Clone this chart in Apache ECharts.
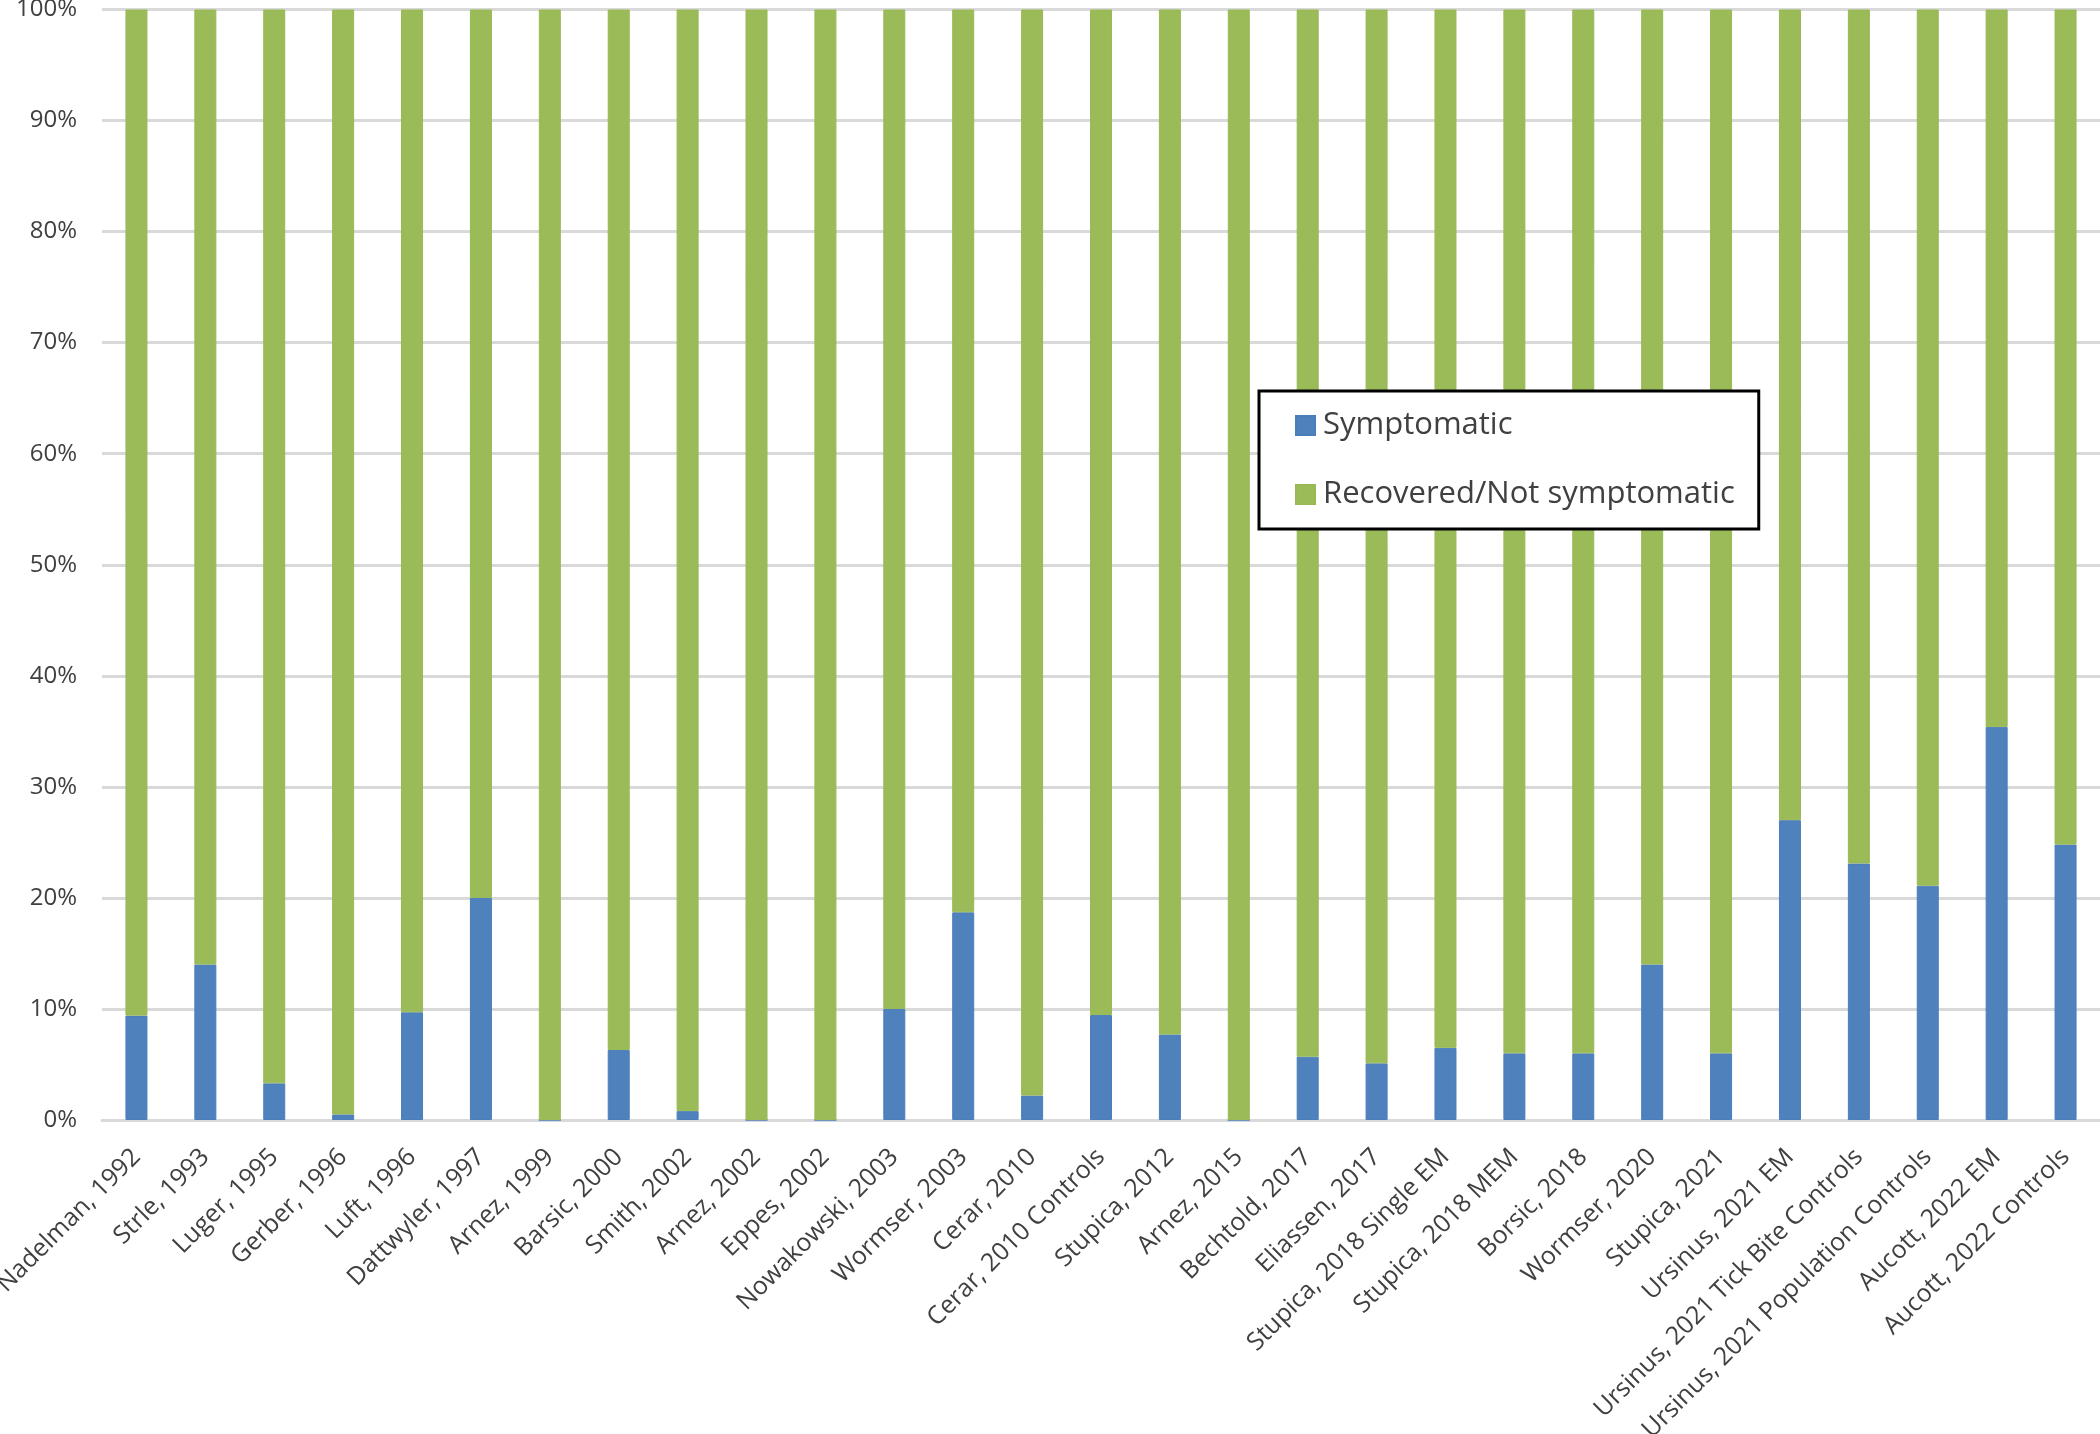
<!DOCTYPE html>
<html>
<head>
<meta charset="utf-8">
<script src="https://cdn.jsdelivr.net/npm/echarts@6/dist/echarts.min.js"></script>
<style>
html,body{margin:0;padding:0;background:#fff;}
#chart{width:2100px;height:1434px;}
</style>
</head>
<body>
<div id="chart"></div>
<script>
const categories = [
  'Nadelman, 1992','Strle, 1993','Luger, 1995','Gerber, 1996','Luft, 1996','Dattwyler, 1997',
  'Arnez, 1999','Barsic, 2000','Smith, 2002','Arnez, 2002','Eppes, 2002','Nowakowski, 2003',
  'Wormser, 2003','Cerar, 2010','Cerar, 2010 Controls','Stupica, 2012','Arnez, 2015',
  'Bechtold, 2017','Eliassen, 2017','Stupica, 2018 Single EM','Stupica, 2018 MEM','Borsic, 2018',
  'Wormser, 2020','Stupica, 2021','Ursinus, 2021 EM','Ursinus, 2021 Tick Bite Controls',
  'Ursinus, 2021 Population Controls','Aucott, 2022 EM','Aucott, 2022 Controls'
];
const symptomatic = [9.4,14.0,3.3,0.5,9.7,20.0,0,6.3,0.8,0,0,10.0,18.7,2.2,9.45,7.7,0,5.7,5.1,6.5,6.0,6.0,14.0,6.0,27.0,23.1,21.1,35.4,24.8];
const recovered   = [90.6,86.0,96.7,99.5,90.3,80.0,100,93.7,99.2,100,100,90.0,81.3,97.8,90.55,92.3,100,94.3,94.9,93.5,94.0,94.0,86.0,94.0,73.0,76.9,78.9,64.6,75.2];
const yTicks = {min:0, max:100, interval:10};
const seriesNames = ['Symptomatic','Recovered/Not symptomatic'];

const chart = echarts.init(document.getElementById('chart'), null, {renderer:'canvas'});
const font = '"Open Sans", "Noto Sans", sans-serif';
chart.setOption({
  animation:false,
  backgroundColor:'#fff',
  grid:{left:102, right:0, top:9.5, bottom:314, containLabel:false, outerBoundsMode:'none'},
  legend:{
    orient:'vertical', left:1259, top:391,
    data:seriesNames,
    icon:'rect', itemWidth:19, itemHeight:19, itemGap:38,
    borderColor:'#000', borderWidth:3, backgroundColor:'#fff',
    padding:[19,24,19,36],
    textStyle:{fontFamily:font, fontSize:31, color:'#404040', lineHeight:30, padding:[0,0,0,3]}
  },
  xAxis:{
    type:'category', data:categories,
    axisLine:{lineStyle:{color:'#d9d9d9', width:3}},
    axisTick:{show:false},
    axisLabel:{interval:0, rotate:45, fontFamily:font, fontSize:25, color:'#404040', margin:33}
  },
  yAxis:{
    type:'value', min:yTicks.min, max:yTicks.max, interval:yTicks.interval,
    axisLine:{show:false}, axisTick:{show:false},
    splitLine:{lineStyle:{color:'#d9d9d9', width:3}},
    axisLabel:{formatter:'{value}%', fontFamily:font, fontSize:24, color:'#404040', margin:25}
  },
  series:[
    {name:seriesNames[0], type:'bar', stack:'t', data:symptomatic, barWidth:22,
     itemStyle:{color:'#4F81BD', borderColor:'#4A7EBB', borderWidth:1}},
    {name:seriesNames[1], type:'bar', stack:'t', data:recovered, barWidth:22,
     itemStyle:{color:'#9BBB59', borderColor:'#98B954', borderWidth:1}}
  ]
});
</script>
</body>
</html>
